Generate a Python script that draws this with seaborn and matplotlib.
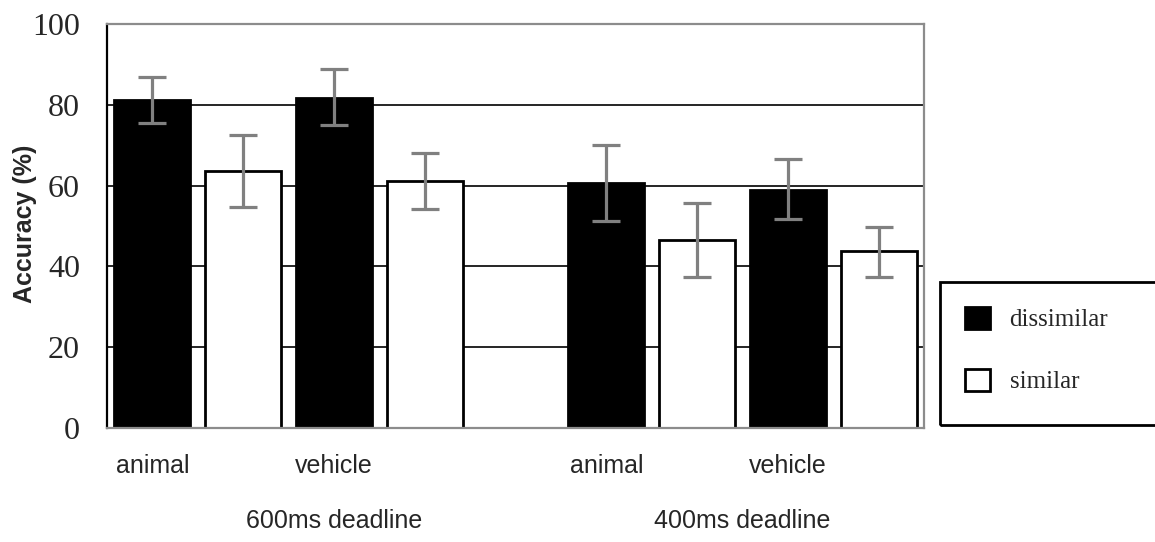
import matplotlib
matplotlib.use('Agg')
import matplotlib.pyplot as plt
from matplotlib.patches import Rectangle
import numpy as np
import pandas as pd
import seaborn as sns

# ---- data ----
positions = [0, 1, 2.5, 3.5]
items = ['animal', 'vehicle', 'animal', 'vehicle']
deadlines = ['600ms deadline', '400ms deadline']
deadline_pos = [0.75, 3.0]
conditions = ['dissimilar', 'similar']

dissimilar_acc = [81.2, 81.6, 60.6, 58.9]
similar_acc = [63.7, 61.2, 46.5, 43.9]
dissimilar_lo = [75.4, 75.0, 51.3, 51.7]
dissimilar_hi = [87.0, 88.9, 70.0, 66.6]
similar_lo = [54.8, 54.2, 37.5, 37.5]
similar_hi = [72.5, 68.0, 55.8, 49.7]
yticks = [0, 20, 40, 60, 80, 100]

df = pd.DataFrame({
    'pos': positions * 2,
    'acc': dissimilar_acc + similar_acc,
    'cond': ['dissimilar'] * 4 + ['similar'] * 4,
})
err_lo = {'dissimilar': dissimilar_lo, 'similar': similar_lo}
err_hi = {'dissimilar': dissimilar_hi, 'similar': similar_hi}
acc = {'dissimilar': dissimilar_acc, 'similar': similar_acc}

sns.set_style('white')
plt.rcParams['font.family'] = ['Liberation Serif', 'DejaVu Serif']

W, H = 1155, 542
fig = plt.figure(figsize=(W / 100, H / 100), dpi=100)
ax = fig.add_axes([107 / W, 114 / H, 817 / W, 404 / H])

sns.barplot(
    data=df, x='pos', y='acc', hue='cond', hue_order=conditions,
    palette=['black', 'white'], native_scale=True, width=1.0, gap=0.165,
    errorbar=None, edgecolor='black', linewidth=2, ax=ax, zorder=2,
)

# error bars on the bars seaborn drew
for cond, cont in zip(conditions, ax.containers):
    xs = np.array([b.get_x() + b.get_width() / 2 for b in cont])
    vals = np.array(acc[cond])
    yerr = [vals - np.array(err_lo[cond]), np.array(err_hi[cond]) - vals]
    ax.errorbar(xs, vals, yerr=yerr, fmt='none', ecolor='#808080',
                elinewidth=2.3, capsize=10, capthick=2.3, zorder=3)

handles = list(ax.containers)
if ax.get_legend() is not None:
    ax.get_legend().remove()

ax.set_xlim(-0.5, 4.0)
ax.set_ylim(0, 100)
ax.set_yticks(yticks)
ax.set_axisbelow(True)
ax.yaxis.grid(True, color='black', linewidth=1.2)
ax.xaxis.grid(False)
ax.set_xlabel('')
ax.set_ylabel('')

ax.set_xticks([p - 0.25 for p in positions])
ax.set_xticklabels(items, family=['Liberation Sans', 'DejaVu Sans'], fontsize=18)
ax.tick_params(axis='x', length=0, pad=19)
ax.tick_params(axis='y', length=6.5, width=1.2, color='black', pad=13, labelsize=23)

for side in ['top', 'right', 'bottom']:
    ax.spines[side].set_color('#8c8c8c')
    ax.spines[side].set_linewidth(1.6)
ax.spines['left'].set_color('black')
ax.spines['left'].set_linewidth(1.6)

for name, x in zip(deadlines, deadline_pos):
    ax.text(x, -0.2475, name, transform=ax.get_xaxis_transform(),
            ha='center', va='baseline', fontsize=18,
            family=['Liberation Sans', 'DejaVu Sans'])

fig.text(25 / W, (H - 224) / H, 'Accuracy (%)', rotation=90, ha='center',
         va='center', fontsize=18, fontweight='bold',
         family=['Liberation Sans', 'DejaVu Sans'])

# legend box runs off the right edge like the original
fig.add_artist(Rectangle((940 / W, 117 / H), 0.3, 143 / H,
                         transform=fig.transFigure, fill=False,
                         edgecolor='black', linewidth=2))
fig.legend(handles, conditions, loc='center left',
           bbox_to_anchor=(942 / W, (H - 350) / H), frameon=False,
           fontsize=18, handlelength=1.0, handleheight=1.0,
           handletextpad=0.8, labelspacing=1.5)

fig.savefig('out.png', dpi=100)
